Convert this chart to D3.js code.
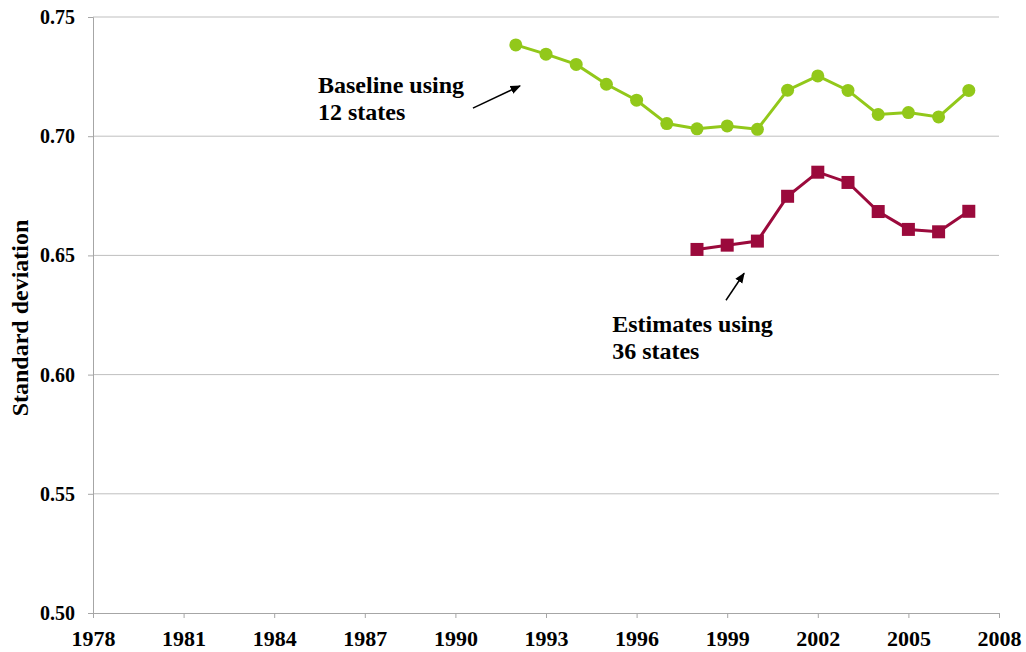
<!DOCTYPE html>
<html>
<head>
<meta charset="utf-8">
<script src="https://cdn.jsdelivr.net/npm/d3@7"></script>
<style>
  body { margin: 0; background: #fff; }
  svg text { font-family: "Liberation Serif", "Times New Roman", serif; font-weight: bold; fill: #000; }
  .grid line { stroke: #bfbfbf; stroke-width: 1; }
  .axis path, .axis line { stroke: #a6a6a6; }
</style>
</head>
<body>
<svg id="chart" width="1026" height="652"></svg>
<script>
// data
const baselineYears = [1992, 1993, 1994, 1995, 1996, 1997, 1998, 1999, 2000, 2001, 2002, 2003, 2004, 2005, 2006, 2007];
const baselineValues = [0.7383, 0.7344, 0.7301, 0.7218, 0.7151, 0.7053, 0.7031, 0.7043, 0.7029, 0.7193, 0.7253, 0.7192, 0.7091, 0.7099, 0.7081, 0.7192];
const estimateYears = [1998, 1999, 2000, 2001, 2002, 2003, 2004, 2005, 2006, 2007];
const estimateValues = [0.6525, 0.6543, 0.6560, 0.6748, 0.6849, 0.6806, 0.6684, 0.6609, 0.6599, 0.6685];
const xTicks = [1978, 1981, 1984, 1987, 1990, 1993, 1996, 1999, 2002, 2005, 2008];
const yTicks = [0.50, 0.55, 0.60, 0.65, 0.70, 0.75];

const margin = {top: 17, right: 27, bottom: 39, left: 93};
const svg = d3.select("#chart");
const width = +svg.attr("width") - margin.left - margin.right;
const height = +svg.attr("height") - margin.top - margin.bottom;

const x = d3.scaleLinear().domain([1978, 2008]).range([0, width]);
const y = d3.scaleLinear().domain([0.50, 0.75]).range([height, 0]);

const g = svg.append("g").attr("transform", "translate(" + margin.left + "," + margin.top + ")");

// horizontal gridlines
g.append("g").attr("class", "grid")
  .selectAll("line").data(yTicks.slice(1)).enter()
  .append("line")
    .attr("x1", 0).attr("x2", width)
    .attr("y1", d => y(d)).attr("y2", d => y(d));

// y axis
const yAxis = g.append("g").attr("class", "y axis")
  .call(d3.axisLeft(y).tickValues(yTicks).tickFormat(d3.format(".2f")).tickSize(5).tickPadding(13));
yAxis.selectAll("text").style("font-size", "20px");

// x axis
const xAxis = g.append("g").attr("class", "x axis")
  .attr("transform", "translate(0," + height + ")")
  .call(d3.axisBottom(x).tickValues(xTicks).tickFormat(d3.format("d")).tickSize(5).tickPadding(12));
xAxis.selectAll("text").style("font-size", "22px");

// y title
g.append("text")
  .attr("transform", "rotate(-90)")
  .attr("x", -(318 - margin.top))
  .attr("y", -margin.left + 28)
  .attr("text-anchor", "middle")
  .style("font-size", "24px")
  .text("Standard deviation");

const line = d3.line().x(d => x(d[0])).y(d => y(d[1]));

// baseline series
const base = d3.zip(baselineYears, baselineValues);
g.append("path").datum(base)
  .attr("fill", "none").attr("stroke", "#92c81a").attr("stroke-width", 3)
  .attr("d", line);
g.selectAll("circle.base").data(base).enter()
  .append("circle").attr("class", "base")
    .attr("cx", d => x(d[0])).attr("cy", d => y(d[1]))
    .attr("r", 6.5).attr("fill", "#92c81a");

// estimates series
const est = d3.zip(estimateYears, estimateValues);
g.append("path").datum(est)
  .attr("fill", "none").attr("stroke", "#9b0a3c").attr("stroke-width", 3)
  .attr("d", line);
g.selectAll("rect.est").data(est).enter()
  .append("rect").attr("class", "est")
    .attr("x", d => x(d[0]) - 6.5).attr("y", d => y(d[1]) - 6.5)
    .attr("width", 13).attr("height", 13)
    .attr("fill", "#9b0a3c");

// annotations
svg.append("defs").append("marker")
  .attr("id", "arrow").attr("viewBox", "0 0 10 10")
  .attr("refX", 9).attr("refY", 5)
  .attr("markerWidth", 7).attr("markerHeight", 7)
  .attr("orient", "auto")
  .append("path").attr("d", "M0,1 L10,5 L0,9 Z").attr("fill", "#000");

const notes = [
  {lines: ["Baseline using", "12 states"], tx: 1985.45, ty: 0.7181, from: [1990.58, 0.7118], to: [1992.14, 0.7211]},
  {lines: ["Estimates using", "36 states"], tx: 1995.19, ty: 0.6178, from: [1998.96, 0.6312], to: [1999.56, 0.6425]}
];
notes.forEach(n => {
  const t = g.append("text").attr("x", x(n.tx)).attr("y", y(n.ty)).style("font-size", "24px");
  n.lines.forEach((s, i) => t.append("tspan").attr("x", x(n.tx)).attr("dy", i ? 27 : 0).text(s));
  g.append("line")
    .attr("x1", x(n.from[0])).attr("y1", y(n.from[1]))
    .attr("x2", x(n.to[0])).attr("y2", y(n.to[1]))
    .attr("stroke", "#000").attr("stroke-width", 1.5)
    .attr("marker-end", "url(#arrow)");
});
</script>
</body>
</html>
